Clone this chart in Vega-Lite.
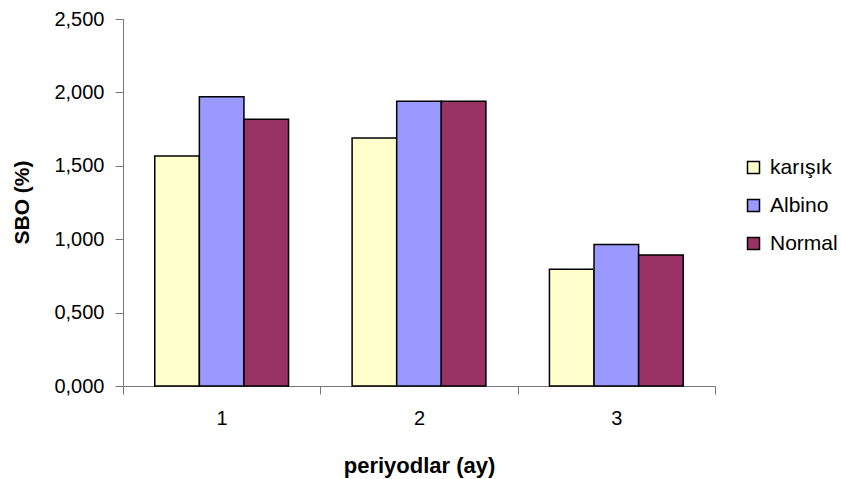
{
  "$schema": "https://vega.github.io/schema/vega-lite/v6.json",
  "width": 592,
  "height": 367,
  "autosize": "none",
  "padding": {"left": 123, "top": 19, "right": 126, "bottom": 93},
  "background": "white",
  "config": {
    "font": "Liberation Sans",
    "view": {"stroke": null}
  },
  "data": {
    "values": [
      {"period": "1", "group": "karışık", "value": 1.567},
      {"period": "1", "group": "Albino", "value": 1.971},
      {"period": "1", "group": "Normal", "value": 1.817},
      {"period": "2", "group": "karışık", "value": 1.690},
      {"period": "2", "group": "Albino", "value": 1.940},
      {"period": "2", "group": "Normal", "value": 1.940},
      {"period": "3", "group": "karışık", "value": 0.796},
      {"period": "3", "group": "Albino", "value": 0.964},
      {"period": "3", "group": "Normal", "value": 0.892}
    ]
  },
  "mark": {"type": "bar", "stroke": "black", "strokeWidth": 1.5},
  "encoding": {
    "x": {
      "field": "period",
      "type": "nominal",
      "scale": {"paddingInner": 0, "paddingOuter": 0},
      "axis": {
        "title": "periyodlar (ay)",
        "labelAngle": 0,
        "labelFontSize": 20,
        "labelColor": "black",
        "labelPadding": 14,
        "tickBand": "extent",
        "tickSize": 8,
        "tickColor": "#777",
        "domainColor": "#777",
        "titleFontSize": 22,
        "titleFontWeight": "bold",
        "titleColor": "black",
        "titleBaseline": "middle",
        "titleY": 79,
        "titleX": 296
      }
    },
    "xOffset": {"field": "group", "type": "nominal", "sort": ["karışık", "Albino", "Normal"], "scale": {"paddingInner": 0, "paddingOuter": 0.7124}},
    "y": {
      "field": "value",
      "type": "quantitative",
      "scale": {"domain": [0, 2.5], "nice": false},
      "axis": {
        "title": "SBO (%)",
        "values": [0, 0.5, 1, 1.5, 2, 2.5],
        "labelExpr": "replace(format(datum.value, '.3f'), '.', ',')",
        "labelFontSize": 20,
        "labelColor": "black",
        "labelPadding": 11,
        "tickSize": 8,
        "tickColor": "#777",
        "domainColor": "#777",
        "grid": false,
        "titleFontSize": 21,
        "titleFontWeight": "bold",
        "titleColor": "black",
        "titleAngle": -90,
        "titleAlign": "center",
        "titleBaseline": "middle",
        "titleX": -101,
        "titleY": 183
      }
    },
    "color": {
      "field": "group",
      "type": "nominal",
      "sort": ["karışık", "Albino", "Normal"],
      "scale": {"domain": ["karışık", "Albino", "Normal"], "range": ["#FFFFCC", "#9999FF", "#993366"]},
      "legend": {
        "title": null,
        "orient": "none",
        "legendX": 620,
        "legendY": 138,
        "symbolType": "square",
        "symbolSize": 144,
        "symbolStrokeColor": "black",
        "symbolStrokeWidth": 1.5,
        "labelFontSize": 21,
        "labelColor": "black",
        "labelOffset": 6,
        "rowPadding": 16
      }
    }
  }
}
